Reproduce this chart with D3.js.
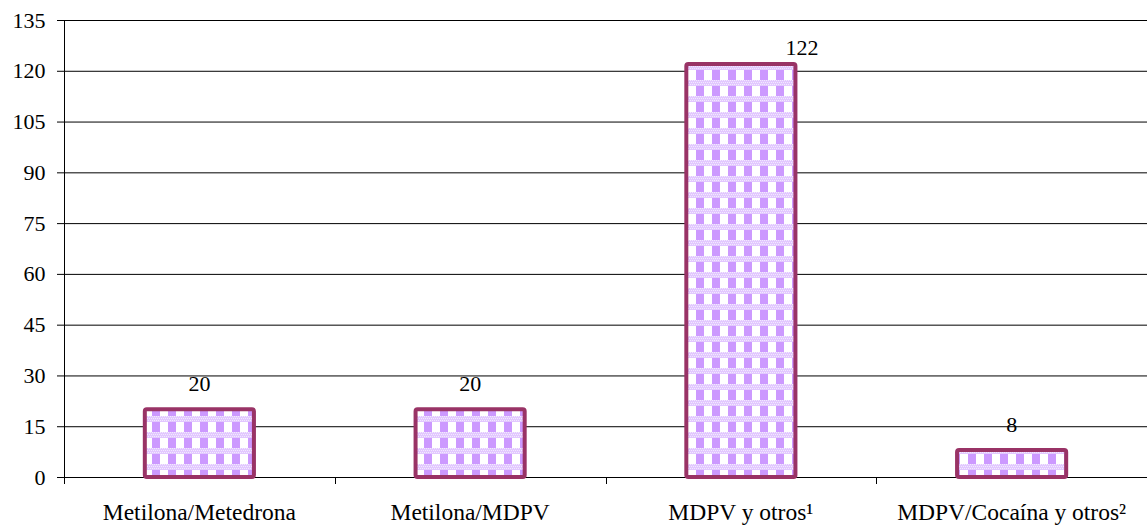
<!DOCTYPE html>
<html><head><meta charset="utf-8">
<script src="https://cdn.jsdelivr.net/npm/d3@7/dist/d3.min.js"></script>
<style>body{margin:0;background:#fff}svg{display:block}text{font-family:"Liberation Serif","Times New Roman",serif;}</style>
</head><body><svg id="c" width="1147" height="526"></svg>
<script>
const categories = ["Metilona/Metedrona","Metilona/MDPV","MDPV y otros\u00b9","MDPV/Coca\u00edna y otros\u00b2"];
const values = [20, 20, 122, 8];
const yTicks = [0,15,30,45,60,75,90,105,120,135];

const svg = d3.select("#c");
const m = {l:64, r:0, t:20, b:49};
const W = 1147, H = 526;
const x = d3.scaleBand().domain(categories).range([m.l, W - m.r]).padding(0);
const y = d3.scaleLinear().domain([0,135]).range([H - m.b, m.t]);

// pattern
const defs = svg.append("defs");
const p = defs.append("pattern").attr("id","chk").attr("patternUnits","userSpaceOnUse")
  .attr("width",16).attr("height",16);
p.append("rect").attr("width",16).attr("height",16).attr("fill","#fff");
p.append("rect").attr("x",8).attr("width",8).attr("height",16).attr("fill","#cc99ff");
p.append("rect").attr("y",0).attr("width",16).attr("height",6).attr("fill","#e2c8ff");
for (let i=0;i<16;i+=2){ for(let j=0;j<6;j+=2){
  p.append("rect").attr("x",i+(j%4===0?0:1)).attr("y",j).attr("width",1).attr("height",1).attr("fill","#ffffff").attr("opacity",0.6);
}}

// gridlines
svg.append("g").selectAll("line").data(yTicks).join("line")
  .attr("x1", m.l - 7).attr("x2", W).attr("y1", d=>y(d)+0.5).attr("y2", d=>y(d)+0.5)
  .attr("stroke","#000").attr("stroke-width",1);

// y axis
const ya = svg.append("g").attr("transform",`translate(${m.l+0.5},0)`)
  .call(d3.axisLeft(y).tickValues(yTicks).tickSize(7).tickPadding(12));
ya.select(".domain").remove();
ya.selectAll("line").remove();
ya.attr("font-family",null);
ya.selectAll("text").attr("font-size",22).attr("fill","#000");
svg.append("line").attr("x1",m.l+0.5).attr("x2",m.l+0.5).attr("y1",y(135)).attr("y2",y(0)+7).attr("stroke","#000");

// x axis ticks at boundaries
const bounds = categories.map(c=>x(c)).concat([W]);
svg.append("g").selectAll("line").data(bounds.slice(1,4)).join("line")
  .attr("x1",d=>Math.round(d)+0.5).attr("x2",d=>Math.round(d)+0.5)
  .attr("y1",y(0)).attr("y2",y(0)+7).attr("stroke","#000");

svg.append("g").selectAll("text").data(categories).join("text")
  .attr("x", d=>x(d)+x.bandwidth()/2).attr("y", y(0)+43)
  .attr("text-anchor","middle").attr("font-size",23.5).attr("fill","#000").text(d=>d);

// bars
const bw = x.bandwidth()*0.403;
svg.append("g").selectAll("rect").data(values).join("rect")
  .attr("x",(d,i)=>x(categories[i])+x.bandwidth()/2 - bw/2)
  .attr("y",d=>y(d))
  .attr("width",bw).attr("height",d=>y(0)-y(d))
  .attr("rx",2).attr("fill","url(#chk)").attr("stroke","#993366").attr("stroke-width",4);

// value labels
svg.append("g").selectAll("text").data(values).join("text")
  .attr("x",(d,i)=>x(categories[i])+x.bandwidth()/2 + (d>100?61:0))
  .attr("y",d=> d>100 ? y(d)-9 : y(d)-18)
  .attr("text-anchor","middle").attr("font-size",22).attr("fill","#000").text(d=>d);
</script></body></html>
